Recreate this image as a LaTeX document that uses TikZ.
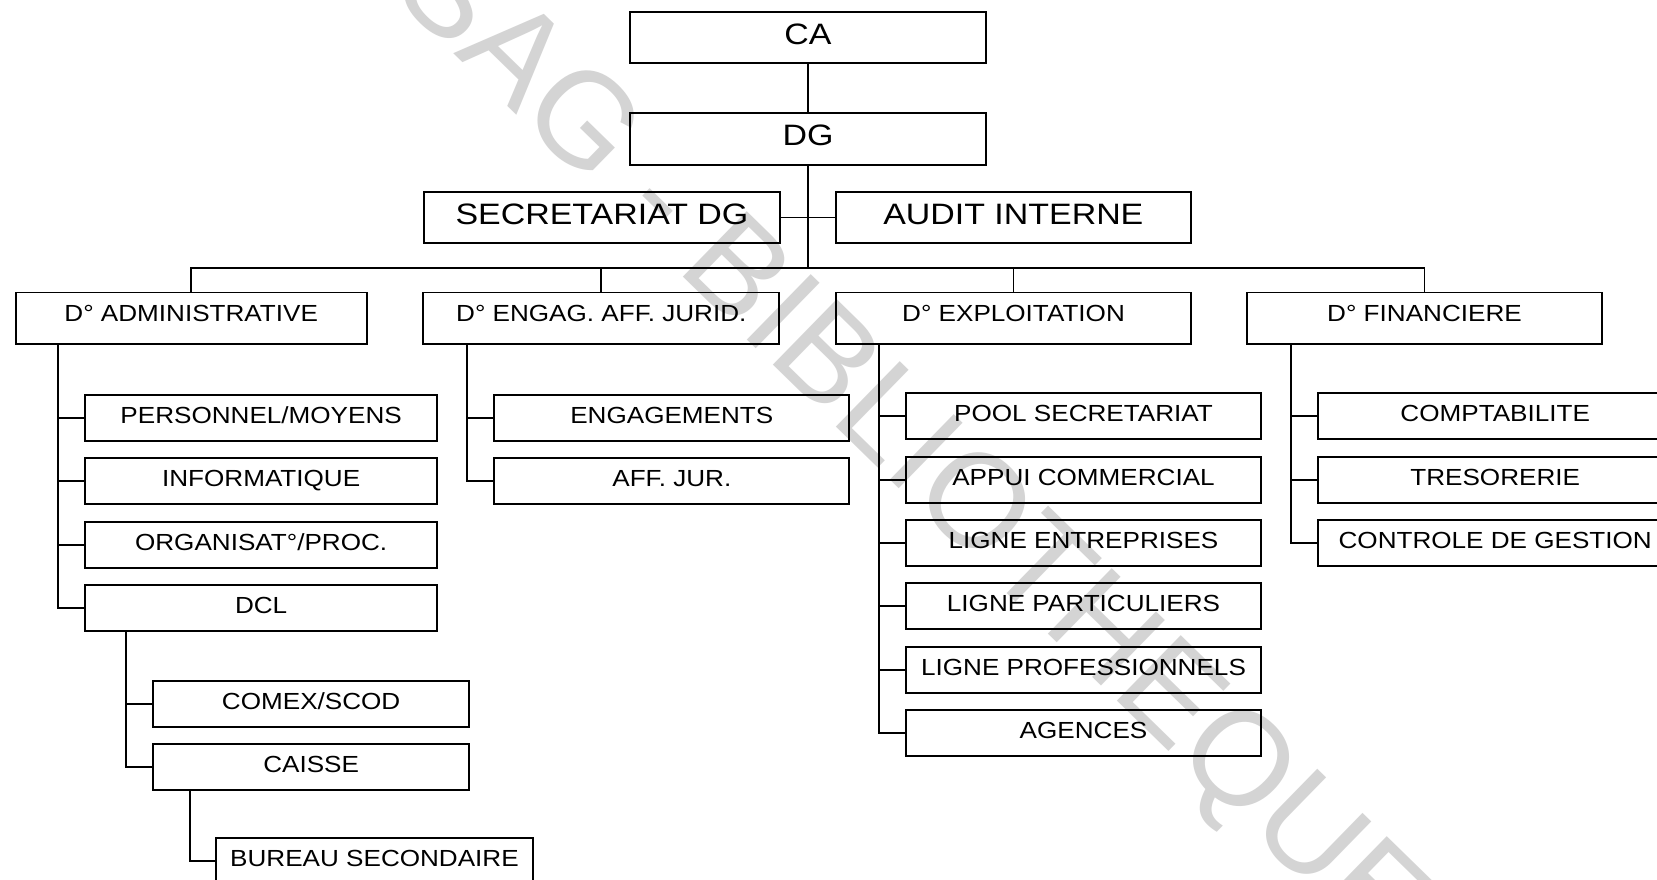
\documentclass[tikz,border=0pt]{standalone}
\usepackage{fontspec}
\setmainfont{Liberation Sans}
\newfontfamily\orgbig[FakeStretch=1.15]{Liberation Sans}
\newfontfamily\orgsmall[FakeStretch=1.12]{Liberation Sans}
\newfontfamily\stampfont{Liberation Sans}
\begin{document}
\begin{tikzpicture}[x=1pt,y=-1pt,
  box/.style={draw, line width=1.8pt, rectangle, inner sep=0pt, outer sep=0pt,
              anchor=north west, align=center},
  topbox/.style={box, minimum width=356pt, text height=32.5pt, text depth=19.1pt,
                 font=\orgbig\fontsize{29.5}{32}\selectfont},
  dirbox/.style={box, minimum width=355pt, text height=28.5pt, text depth=23pt,
                 font=\orgsmall\fontsize{23.3}{26}\selectfont},
  subbox/.style={box, minimum width=355pt, text height=28.5pt, text depth=17.5pt,
                 font=\orgsmall\fontsize{23.3}{26}\selectfont},
  link/.style={line width=1.8pt}]

% page frame
\useasboundingbox (0,0) rectangle (1657,880);
\fill[white] (0,0) rectangle (1657,880);
\clip (0,0) rectangle (1657,880);

% library stamp across the page
\node[rotate=-44.3, anchor=base west, inner sep=0pt, text=black!17,
      font=\stampfont\fontsize{133}{135}\selectfont]
  (stamp) at (257.6,-138) {CESAG - BIBLIOTHEQUE};

% top management
\node[topbox] (ca)    at (630,11.7)    {CA};
\node[topbox] (dg)    at (630,113.3)   {DG};
\node[topbox] (sec)   at (424,191.7)   {SECRETARIAT DG};
\node[topbox, minimum width=355.3pt] (audit) at (835.7,191.7) {AUDIT INTERNE};

% directorates
\node[dirbox, minimum width=351pt]   (adm) at (15.7,292.5)   {D° ADMINISTRATIVE};
\node[dirbox, minimum width=356pt]   (eng) at (423.3,292.5)  {D° ENGAG. AFF. JURID.};
\node[dirbox]                        (exp) at (836,292.5)    {D° EXPLOITATION};
\node[dirbox, minimum width=354.4pt] (fin) at (1247.3,292.5) {D° FINANCIERE};

% administrative services
\node[subbox, minimum width=352.3pt] (pers) at (85,395)   {PERSONNEL/MOYENS};
\node[subbox, minimum width=352.3pt] (info) at (85,458.3) {INFORMATIQUE};
\node[subbox, minimum width=352.3pt] (orga) at (85,521.7) {ORGANISAT°/PROC.};
\node[subbox, minimum width=352.3pt] (dcl)  at (85,585)   {DCL};
\node[subbox, minimum width=315.7pt] (comex)  at (153.3,680.7) {COMEX/SCOD};
\node[subbox, minimum width=315.7pt] (caisse) at (153.3,744)   {CAISSE};
\node[subbox, minimum width=317.6pt] (bureau) at (215.7,838.3) {BUREAU SECONDAIRE};

% legal and commitments
\node[subbox] (engm) at (494.3,395)   {ENGAGEMENTS};
\node[subbox] (affj) at (494.3,457.7) {AFF. JUR.};

% operations
\node[subbox] (pool)  at (906,393.3) {POOL SECRETARIAT};
\node[subbox] (appui) at (906,456.7) {APPUI COMMERCIAL};
\node[subbox] (lent)  at (906,520)   {LIGNE ENTREPRISES};
\node[subbox] (lpart) at (906,583.3) {LIGNE PARTICULIERS};
\node[subbox] (lprof) at (906,646.7) {LIGNE PROFESSIONNELS};
\node[subbox] (agen)  at (906,710)   {AGENCES};

% finance
\node[subbox] (compta) at (1317.7,393.3) {COMPTABILITE};
\node[subbox] (treso)  at (1317.7,456.7) {TRESORERIE};
\node[subbox] (ctrl)   at (1317.7,519.8) {CONTROLE DE GESTION};

% hierarchy links
\coordinate (bus) at (808,267.7);
\draw[link] (ca) -- (dg);
\draw[link] (sec.east) -- (audit.west);
\draw[link] (dg.south) -- (bus);
\draw[link] (adm.north) |- (bus) -| (fin.north);
\draw[link] (eng.north) -- (eng.north |- bus);
\draw[link] (exp.north) -- (exp.north |- bus);

\foreach \c in {pers,info,orga,dcl}
  \draw[link] ([xshift=42.6pt]adm.south west) |- (\c.west);
\foreach \c in {comex,caisse}
  \draw[link] ([xshift=41pt]dcl.south west) |- (\c.west);
\draw[link] ([xshift=36.7pt]caisse.south west) |- (bureau.west);
\foreach \c in {engm,affj}
  \draw[link] ([xshift=43.4pt]eng.south west) |- (\c.west);
\foreach \c in {pool,appui,lent,lpart,lprof,agen}
  \draw[link] ([xshift=43pt]exp.south west) |- (\c.west);
\foreach \c in {compta,treso,ctrl}
  \draw[link] ([xshift=43.4pt]fin.south west) |- (\c.west);
\end{tikzpicture}
\end{document}
